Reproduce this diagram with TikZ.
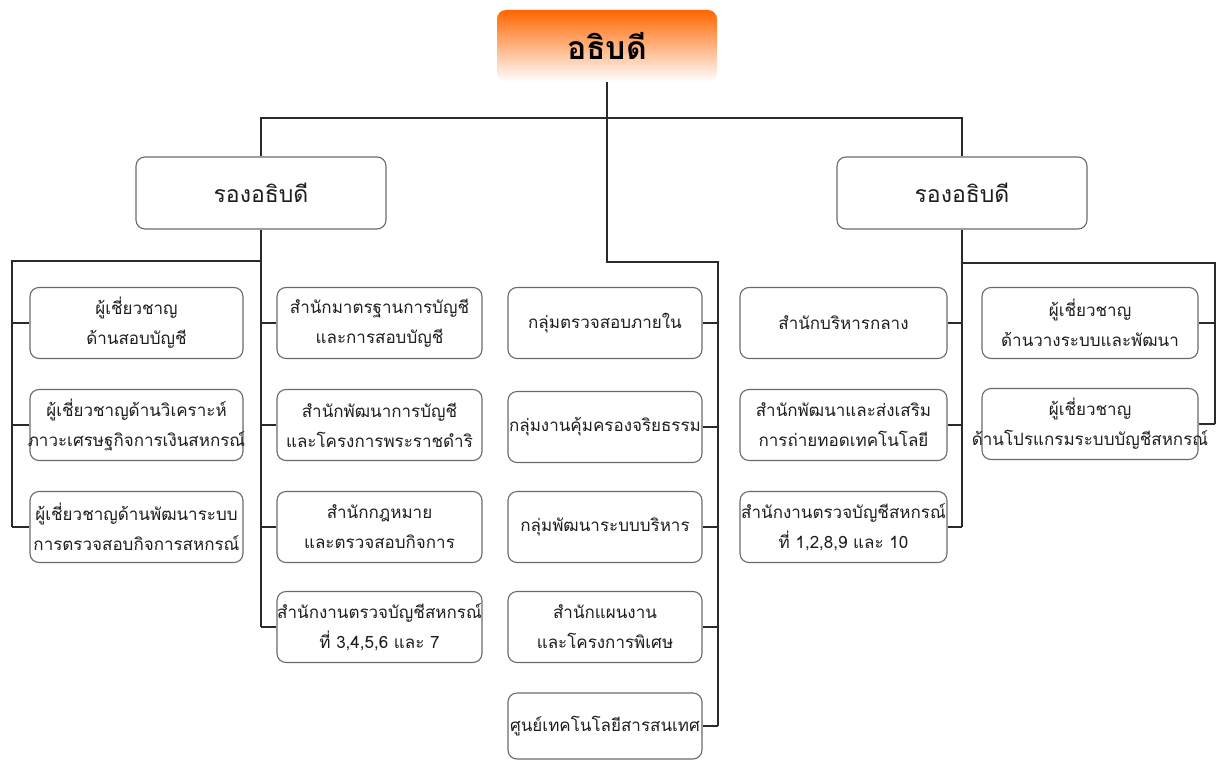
\documentclass[tikz,border=0pt]{standalone}
\usepackage{fontspec}
\newfontfamily\thaifont[Script=Thai]{Loma}
\definecolor{boxline}{HTML}{6A6A6A}
\definecolor{connline}{HTML}{2A2A2A}
\definecolor{txt}{HTML}{1E1E1E}
\definecolor{orangeA}{HTML}{FF6600}
\definecolor{orangeB}{HTML}{FF8C3C}
% centred line that may overflow its box on both sides
\newcommand\tline[1]{\makebox[\linewidth][c]{#1}}
\begin{document}
\begin{tikzpicture}[x=1pt,y=-1pt,
  box/.style={draw=boxline, line width=1.1pt, rounded corners=9pt, fill=white,
    align=center, text=txt, inner sep=0pt, minimum height=71pt,
    font=\thaifont\fontsize{17}{30}\selectfont},
  depbox/.style={box, text width=250pt, minimum height=72pt,
    font=\thaifont\fontsize{23}{26}\selectfont},
  titlebox/.style={rounded corners=9pt, minimum width=220pt, minimum height=72pt,
    top color=orangeA, middle color=orangeB, bottom color=white, text=black,
    font=\thaifont\bfseries\fontsize{32}{36}\selectfont},
  cA/.style={box, text width=213pt},
  cB/.style={box, text width=205pt},
  cM/.style={box, text width=194pt},
  cR/.style={box, text width=207pt},
  cS/.style={box, text width=216pt},
  conn/.style={draw=connline, line width=1.4pt}
]
\useasboundingbox (0,0) rectangle (1217,760);

% top
\node[titlebox] (top) at (607,46) {อธิบดี};

% deputies
\node[depbox] (dl) at (261,193) {รองอธิบดี};
\node[depbox] (dr) at (962,193) {รองอธิบดี};

% column A (left experts)
\node[cA] (e1) at (136.5,323) {\tline{ผู้เชี่ยวชาญ}\\\tline{ด้านสอบบัญชี}};
\node[cA] (e2) at (136.5,425) {\tline{ผู้เชี่ยวชาญด้านวิเคราะห์}\\\tline{ภาวะเศรษฐกิจการเงินสหกรณ์}};
\node[cA] (e3) at (136.5,527) {\tline{ผู้เชี่ยวชาญด้านพัฒนาระบบ}\\\tline{การตรวจสอบกิจการสหกรณ์}};

% column B (left offices)
\node[cB] (o1) at (379.5,323) {\tline{สำนักมาตรฐานการบัญชี}\\\tline{และการสอบบัญชี}};
\node[cB] (o2) at (379.5,425) {\tline{สำนักพัฒนาการบัญชี}\\\tline{และโครงการพระราชดำริ}};
\node[cB] (o3) at (379.5,527) {\tline{สำนักกฎหมาย}\\\tline{และตรวจสอบกิจการ}};
\node[cB] (o4) at (379.5,627) {\tline{สำนักงานตรวจบัญชีสหกรณ์}\\\tline{ที่ 3,4,5,6 และ 7}};

% middle column
\node[cM] (m1) at (605,323) {\tline{กลุ่มตรวจสอบภายใน}};
\node[cM] (m2) at (605,427) {\tline{กลุ่มงานคุ้มครองจริยธรรม}};
\node[cM] (m3) at (605,527) {\tline{กลุ่มพัฒนาระบบบริหาร}};
\node[cM] (m4) at (605,627) {\tline{สำนักแผนงาน}\\\tline{และโครงการพิเศษ}};
\node[cM, minimum height=66pt] (m5) at (605,726) {\tline{ศูนย์เทคโนโลยีสารสนเทศ}};

% right offices
\node[cR] (a1) at (843.5,323) {\tline{สำนักบริหารกลาง}};
\node[cR] (a2) at (843.5,425) {\tline{สำนักพัฒนาและส่งเสริม}\\\tline{การถ่ายทอดเทคโนโลยี}};
\node[cR] (a3) at (843.5,527) {\tline{สำนักงานตรวจบัญชีสหกรณ์}\\\tline{ที่ 1,2,8,9 และ 10}};

% right experts
\node[cS] (b1) at (1090,323) {\tline{ผู้เชี่ยวชาญ}\\\tline{ด้านวางระบบและพัฒนา}};
\node[cS] (b2) at (1090,424) {\tline{ผู้เชี่ยวชาญ}\\\tline{ด้านโปรแกรมระบบบัญชีสหกรณ์}};

% bus coordinates
\coordinate (bus) at (607,118);
\coordinate (mbus) at (718,262);
\coordinate (lbus) at (12,261);
\coordinate (rbus) at (1215,263);

% top connections
\draw[conn] (top.south) -- (top.south |- mbus) -- (mbus) -- (mbus |- m5.east);
\draw[conn] (dl.north) -- (dl.north |- bus) -- (dr.north |- bus) -- (dr.north);

% middle branches
\foreach \n in {m1,m2,m3,m4,m5}
  \draw[conn] (\n.east) -- (\n.east -| mbus);

% left deputy
\draw[conn] (dl.south) -- (dl.south |- o4.west);
\draw[conn] (dl.south |- lbus) -- (lbus) -- (lbus |- e3.west);
\foreach \n in {e1,e2,e3}
  \draw[conn] (\n.west) -- (\n.west -| lbus);
\foreach \n in {o1,o2,o3,o4}
  \draw[conn] (\n.west) -- (\n.west -| dl.south);

% right deputy
\draw[conn] (dr.south) -- (dr.south |- a3.east);
\draw[conn] (dr.south |- rbus) -- (rbus) -- (rbus |- b2.east);
\foreach \n in {a1,a2,a3}
  \draw[conn] (\n.east) -- (\n.east -| dr.south);
\foreach \n in {b1,b2}
  \draw[conn] (\n.east) -- (\n.east -| rbus);
\end{tikzpicture}
\end{document}
